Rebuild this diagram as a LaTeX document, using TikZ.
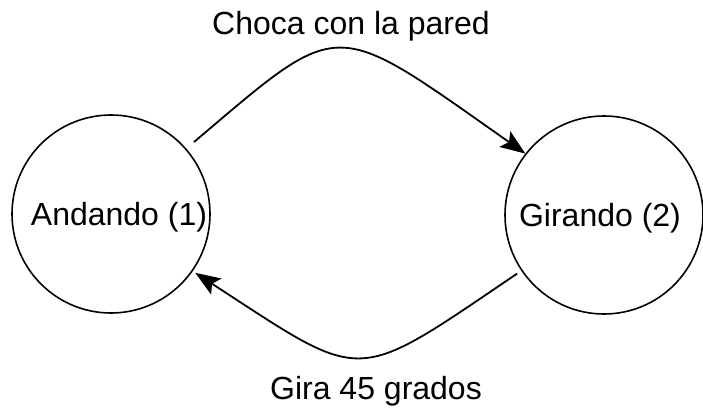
\documentclass[tikz,border=0pt]{standalone}
\usepackage{fontspec}
\setmainfont{Liberation Sans}
\usetikzlibrary{arrows.meta}
\begin{document}
\begin{tikzpicture}[x=1pt,y=1pt,
  state/.style={draw, circle, line width=1.6pt, minimum size=198pt, inner sep=0pt,
    font=\fontsize{32}{38}\selectfont, text height=23pt, text depth=0pt},
  lbl/.style={anchor=base, font=\fontsize{32}{38}\selectfont},
  trans/.style={line width=1.8pt, -{Stealth[length=25pt,width=19pt,inset=5pt]}}]
\useasboundingbox (0,0) rectangle (703,407);
\node[state] (A) at (111,193) {\hspace*{16pt}Andando (1)};
\node[state] (B) at (604,192) {Girando (2)\hspace*{8pt}};
\node[lbl] (top) at (351,372) {Choca con la pared};
\node[lbl] (bot) at (376,7.5) {Gira 45 grados};
\draw[trans, shorten <=10pt] (A.41) .. controls +(157,133) and +(-195,137) .. (B.142);
\draw[trans, shorten <=5pt, shorten >=3pt] (B.214) .. controls +(-170,-115) and +(174,-113) .. (A.-35);
\end{tikzpicture}
\end{document}
